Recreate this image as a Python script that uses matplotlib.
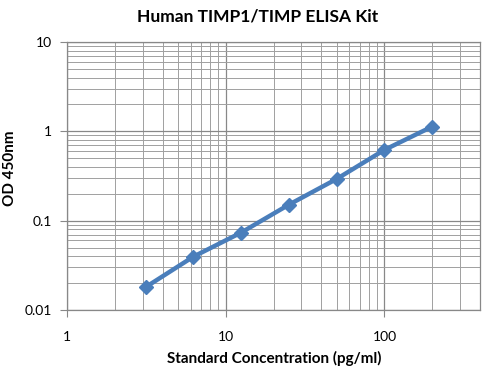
import numpy as np
import matplotlib.pyplot as plt
from matplotlib.ticker import LogLocator, FixedLocator, NullFormatter

# standard curve values
conc = [3.125, 6.25, 12.5, 25, 50, 100, 200]
od = [0.018, 0.0395, 0.0735, 0.151, 0.293, 0.62, 1.13]

x_ticks = [1, 10, 100]
x_tick_labels = ["1", "10", "100"]
y_ticks = [0.01, 0.1, 1, 10]
y_tick_labels = ["0.01", "0.1", "1", "10"]

plt.rcParams['font.family'] = ['Lato', 'DejaVu Sans']

fig = plt.figure(figsize=(4.87, 3.69), dpi=100)
ax = fig.add_axes([67/487, 1-310/369, (480-67)/487, (310-42)/369])

ax.plot(conc, od, color='#4A7EBB', lw=3.2, marker='D', ms=7,
        mec='#4A7EBB', mfc='#4A7EBB', zorder=3)

ax.set_xscale('log')
ax.set_yscale('log')
ax.set_xlim(1, 400)
ax.set_ylim(0.01, 10)

ax.xaxis.set_major_locator(FixedLocator(x_ticks))
ax.set_xticklabels(x_tick_labels)
ax.yaxis.set_major_locator(FixedLocator(y_ticks))
ax.set_yticklabels(y_tick_labels)
ax.xaxis.set_minor_locator(LogLocator(base=10, subs=np.arange(2, 10)))
ax.yaxis.set_minor_locator(LogLocator(base=10, subs=np.arange(2, 10)))
ax.xaxis.set_minor_formatter(NullFormatter())
ax.yaxis.set_minor_formatter(NullFormatter())

ax.grid(True, which='major', color='#888888', lw=0.9)
ax.grid(True, which='minor', color='#a0a0a0', lw=0.7)
ax.set_axisbelow(True)

for s in ax.spines.values():
    s.set_color('#888888')
    s.set_linewidth(0.9)

ax.tick_params(which='major', length=5, color='#888888', labelsize=10,
               labelcolor='#000000', pad=6)
ax.tick_params(which='minor', length=0)
ax.tick_params(axis='x', pad=10)

fig.text(258/487, 1-17/369, 'Human TIMP1/TIMP ELISA Kit', ha='center',
         va='center', fontsize=12.5, fontweight='bold')
fig.text(274/487, 1-358/369, 'Standard Concentration (pg/ml)', ha='center',
         va='center', fontsize=11, fontweight='bold')
fig.text(10/487, 1-168/369, 'OD 450nm', ha='center', va='center',
         rotation=90, fontsize=11, fontweight='bold')

fig.savefig('out.png', dpi=100)
